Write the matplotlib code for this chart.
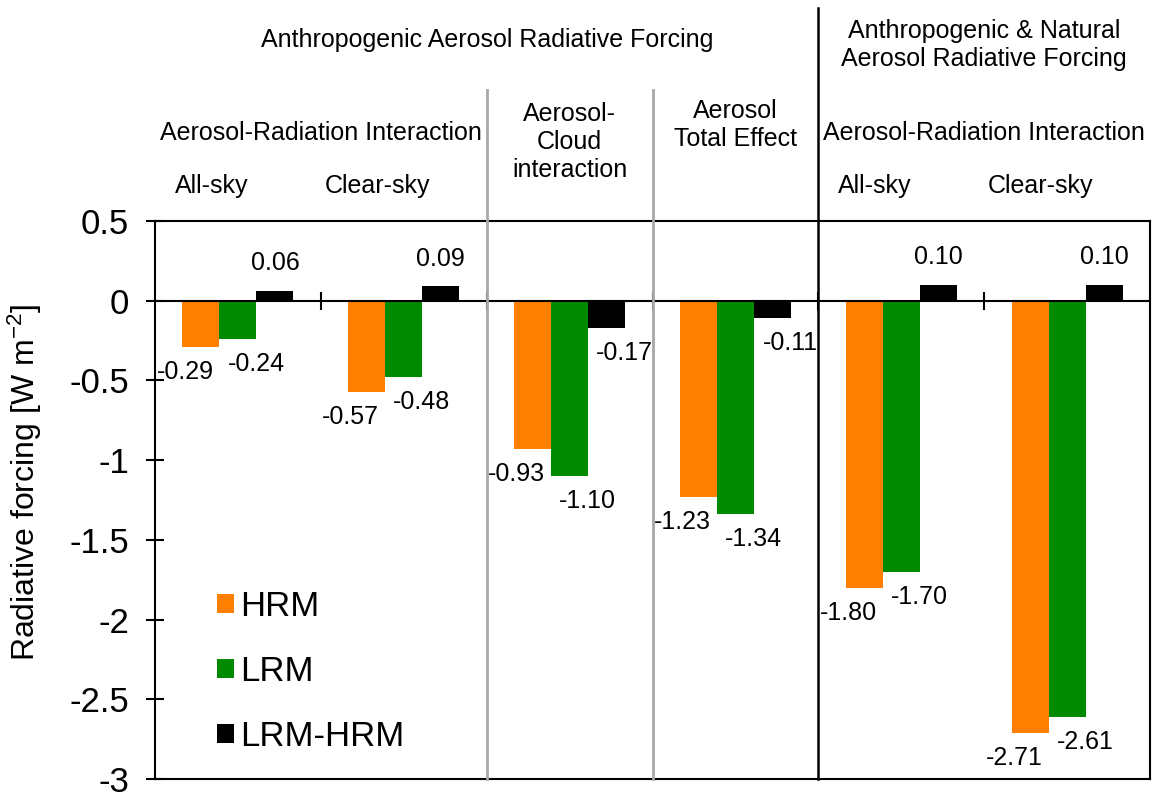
import numpy as np
import matplotlib
matplotlib.use("Agg")
import matplotlib.pyplot as plt
from matplotlib.patches import Patch

plt.rcParams['font.family'] = ['Liberation Sans', 'DejaVu Sans']
plt.rcParams['mathtext.default'] = 'regular'

# | ================= Data ================= |

GROUPS = ["ARI all-sky", "ARI clear-sky", "ACI", "Total effect",
          "ARI all-sky (anthro+nat)", "ARI clear-sky (anthro+nat)"]
HRM = [-0.29, -0.57, -0.93, -1.23, -1.80, -2.71]
LRM = [-0.24, -0.48, -1.10, -1.34, -1.70, -2.61]
DIFF = [0.06, 0.09, -0.17, -0.11, 0.10, 0.10]
SERIES = ["HRM", "LRM", "LRM-HRM"]
YTICKS = [0.5, 0, -0.5, -1, -1.5, -2, -2.5, -3]
YTICK_LABELS = ["0.5", "0", "-0.5", "-1", "-1.5", "-2", "-2.5", "-3"]

# | ================= Style ================= |

ORANGE = "#ff7f00"
GREEN = "#008a00"
BLACK = "#000000"
SEP_GRAY = "#a8a8a8"
W = 0.223

fig = plt.figure(figsize=(11.68, 8.05), dpi=100)
ax = fig.add_axes([0.1327, 0.0323, 0.852, 0.6932])

x = np.arange(len(GROUPS))
series = [
    (-W, HRM, ORANGE, -11.5),
    (0.0, LRM, GREEN, 13),
    (W, DIFF, BLACK, 0),
]

for off, vals, col, dx in series:
    bars = ax.bar(x + off, vals, W, color=col, linewidth=0, zorder=2)
    for b, v in zip(bars, vals):
        if v > 0:
            offs = (dx, 20)
        else:
            offs = (dx if col != BLACK else 13, -18)
        ax.annotate(f"{v:.2f}", xy=(b.get_x() + b.get_width() / 2, v),
                    xytext=offs, textcoords="offset points",
                    ha="center", va="center", fontsize=18,
                    annotation_clip=False, zorder=4)

ax.set_xlim(-0.5, len(GROUPS) - 0.5)
ax.set_ylim(-3, 0.5)
ax.set_yticks(YTICKS)
ax.set_yticklabels(YTICK_LABELS)
ax.tick_params(axis="y", direction="inout", length=13, width=1.5,
               labelsize=25, pad=12)
ax.set_xticks([])
for s in ax.spines.values():
    s.set_linewidth(1.5)

# zero line with crossing ticks at the group boundaries
ax.axhline(0, color="k", lw=1.5, zorder=3)
bounds = np.arange(0.5, len(GROUPS) - 1)
ax.plot(bounds, np.zeros_like(bounds), ls="none", marker="|", ms=13,
        mew=1.5, color="k", zorder=3)

# section separators
ax.axvline(1.5, ymin=0, ymax=1.235, color=SEP_GRAY, lw=2, clip_on=False, zorder=5)
ax.axvline(2.5, ymin=0, ymax=1.235, color=SEP_GRAY, lw=2, clip_on=False, zorder=5)
ax.axvline(3.5, ymin=0, ymax=1.382, color="k", lw=1.8, clip_on=False, zorder=5)

# | ================= Headers ================= |

tr = ax.get_xaxis_transform()
hdr = dict(transform=tr, ha="center", va="center", fontsize=18, clip_on=False)
ax.text(1.5, 1.325, "Anthropogenic Aerosol Radiative Forcing", **hdr)
ax.text(4.5, 1.315, "Anthropogenic & Natural\nAerosol Radiative Forcing", **hdr)
ax.text(0.5, 1.158, "Aerosol-Radiation Interaction", **hdr)
ax.text(4.5, 1.158, "Aerosol-Radiation Interaction", **hdr)
ax.text(2.0, 1.142, "Aerosol-\nCloud\ninteraction", **hdr)
ax.text(3.0, 1.172, "Aerosol\nTotal Effect", **hdr)
for gx, lab in zip([0, 1, 4, 5], ["All-sky", "Clear-sky", "All-sky", "Clear-sky"]):
    ax.text(gx - 0.16, 1.063, lab, **hdr)

ax.set_ylabel("Radiative forcing [W m$^{-2}$]", fontsize=23)
ax.yaxis.set_label_coords(-0.112, 0.532)

# | ================= Legend ================= |

handles = [Patch(facecolor=c, edgecolor="none", label=n)
           for c, n in zip([ORANGE, GREEN, BLACK], SERIES)]
ax.legend(handles=handles, loc="upper left",
          bbox_to_anchor=(217 / 1168, 1 - 590 / 805),
          bbox_transform=fig.transFigure, frameon=False, fontsize=25,
          handlelength=0.48, handleheight=0.48, handletextpad=0.2,
          labelspacing=0.92, borderpad=0, borderaxespad=0)

fig.savefig("out.png", dpi=100, facecolor="white")
